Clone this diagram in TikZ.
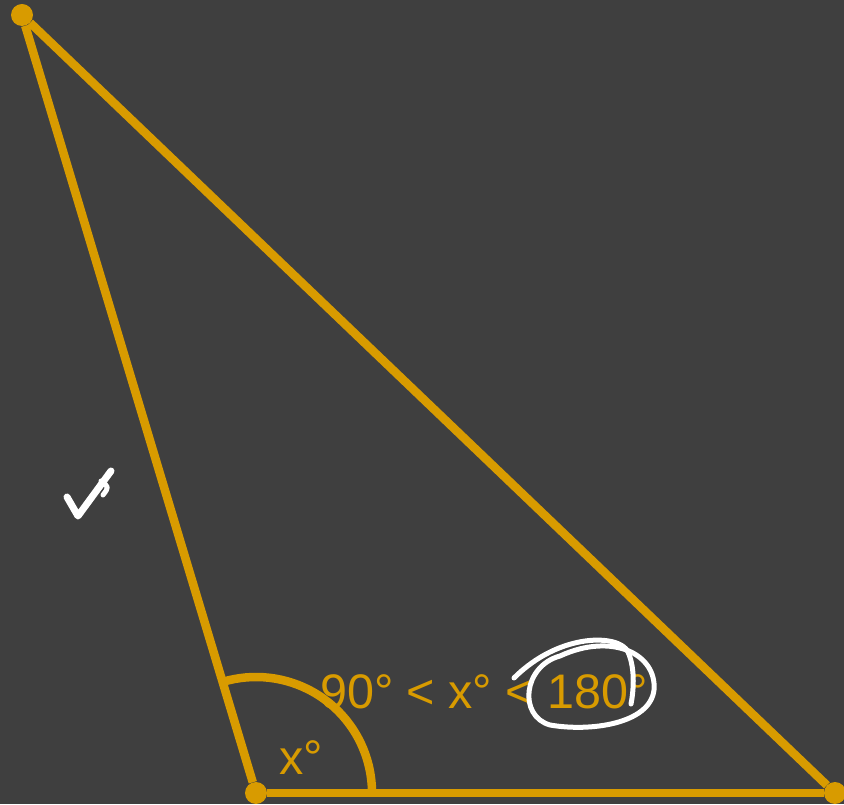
\documentclass[tikz,border=0pt]{standalone}
\usepackage{fontspec}
\setmainfont{Liberation Sans}
\usetikzlibrary{calc,positioning}
\definecolor{board}{HTML}{3F3F3F}
\definecolor{gold}{HTML}{D89B00}
\tikzset{
  side/.style={draw=gold, line width=8.5pt},
  vertex/.style={circle, fill=gold, inner sep=0pt, minimum size=22pt},
  label/.style={text=gold, inner sep=0pt, font=\fontsize{48.5}{52}\selectfont},
  ink/.style={draw=white, line width=5pt, line cap=round, line join=round}
}
\begin{document}
\begin{tikzpicture}[x=1pt, y=1pt]
\fill[board] (0,0) rectangle (844,804);
\useasboundingbox (0,0) rectangle (844,804);

\node[vertex] (A) at (22,789) {};
\node[vertex] (B) at (256,11) {};
\node[vertex] (C) at (835,11) {};
\draw[side] (A) -- (B);
\draw[side] (B) -- (C);
\draw[side] (C) -- (A);

% angle at B
\draw[side] ($(B.center)+(116,0)$) arc (0:106.7:116);
\node[label] (angle) at (301,46) {x°};
\node[label] (range) at (484,112) {90° < x° < 180°};

% white marks
\draw[ink, line width=7pt] (67,307) -- (78,288) -- (111,333);
\draw[ink] (101,323) .. controls (109,317) .. (103,309);
\draw[ink] (514,126) .. controls (560,172) and (620,170) .. (628,152)
  .. controls (636,134) and (633,110) .. (631,100);
\draw[ink] (560,148) .. controls (612,172) and (657,150) .. (654,114)
  .. controls (650,80) and (590,72) .. (550,79)
  .. controls (518,88) and (523,138) .. (560,148);
\end{tikzpicture}
\end{document}
